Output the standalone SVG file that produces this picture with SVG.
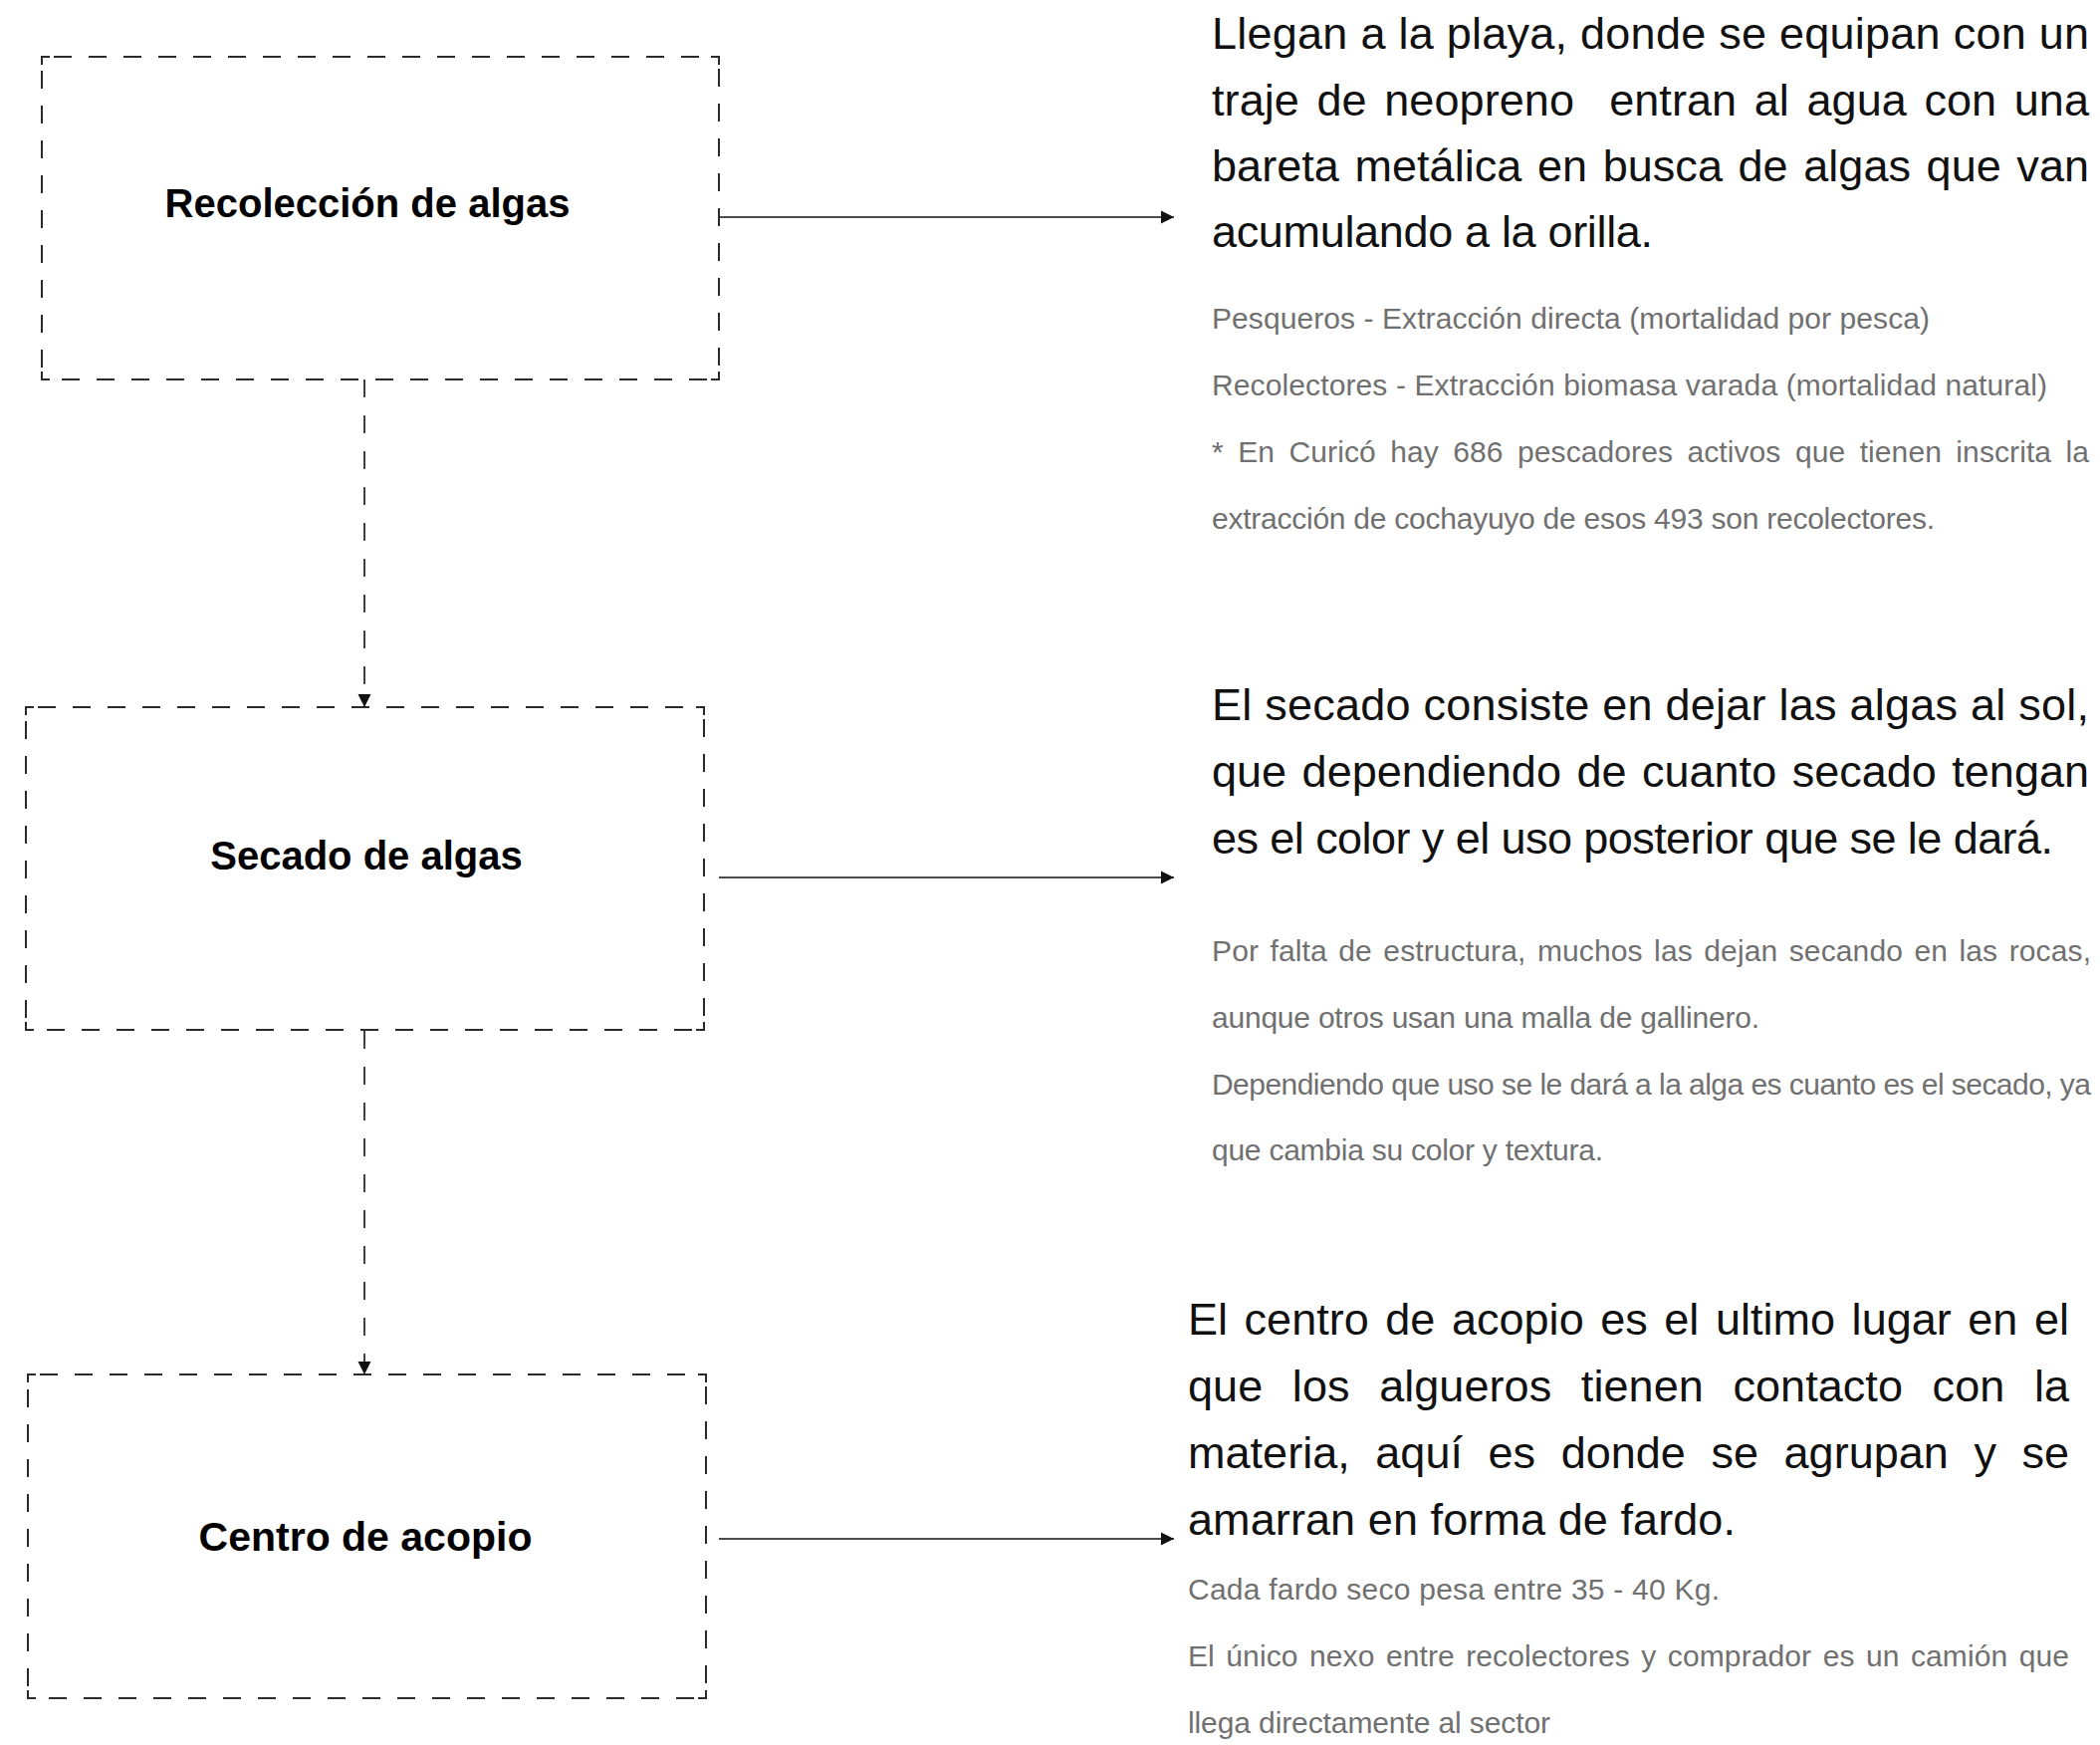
<svg xmlns="http://www.w3.org/2000/svg" width="2109" height="1752" viewBox="0 0 2109 1752">
<style>
.edge{fill:none;stroke:#2a2a2a;stroke-width:2;stroke-dasharray:18 17;stroke-dashoffset:23}
.corner{fill:none;stroke:#2a2a2a;stroke-width:2}
.h{font-family:"Liberation Sans",Arial,sans-serif;font-weight:bold;font-size:40px;fill:#000;text-anchor:middle}
.b{font-family:"Liberation Sans",Arial,sans-serif;font-size:45px;fill:#111}
.s{font-family:"Liberation Sans",Arial,sans-serif;font-size:30px;fill:#707070}
.con{fill:none;stroke:#111;stroke-width:1.6}
.dash{stroke-dasharray:18 18}
</style>
<defs>
<marker id="ah" markerUnits="userSpaceOnUse" markerWidth="14" markerHeight="14" refX="13" refY="7" orient="auto">
<path d="M0,0.5 L13,7 L0,13.5 z" fill="#111"/>
</marker>
</defs>
<rect width="2109" height="1752" fill="#fff"/>

<g id="connectors">
<line class="con dash" x1="366" y1="381" x2="366" y2="710" marker-end="url(#ah)"/>
<line class="con dash" x1="366" y1="1035" x2="366" y2="1380" marker-end="url(#ah)"/>
<line class="con" x1="722" y1="218" x2="1179" y2="218" marker-end="url(#ah)"/>
<line class="con" x1="722" y1="881" x2="1179" y2="881" marker-end="url(#ah)"/>
<line class="con" x1="722" y1="1545" x2="1179" y2="1545" marker-end="url(#ah)"/>
</g>

<g id="node-recoleccion">
<line class="edge" x1="42" y1="57" x2="722" y2="57"/>
<line class="edge" x1="722" y1="57" x2="722" y2="381"/>
<line class="edge" x1="722" y1="381" x2="42" y2="381"/>
<line class="edge" x1="42" y1="381" x2="42" y2="57"/>
<path class="corner" d="M42,65 V57 H50 M714,57 H722 V65 M722,373 V381 H714 M50,381 H42 V373"/>
<text class="h" x="369" y="218">Recolección de algas</text>
</g>

<g id="node-secado">
<line class="edge" x1="26" y1="710" x2="707" y2="710"/>
<line class="edge" x1="707" y1="710" x2="707" y2="1034"/>
<line class="edge" x1="707" y1="1034" x2="26" y2="1034"/>
<line class="edge" x1="26" y1="1034" x2="26" y2="710"/>
<path class="corner" d="M26,718 V710 H34 M699,710 H707 V718 M707,1026 V1034 H699 M34,1034 H26 V1026"/>
<text class="h" x="368" y="873">Secado de algas</text>
</g>

<g id="node-acopio">
<line class="edge" x1="28" y1="1380" x2="709" y2="1380"/>
<line class="edge" x1="709" y1="1380" x2="709" y2="1705"/>
<line class="edge" x1="709" y1="1705" x2="28" y2="1705"/>
<line class="edge" x1="28" y1="1705" x2="28" y2="1380"/>
<path class="corner" d="M28,1388 V1380 H36 M701,1380 H709 V1388 M709,1697 V1705 H701 M36,1705 H28 V1697"/>
<text class="h" x="367" y="1557" style="font-size:41px">Centro de acopio</text>
</g>

<g id="text-recoleccion">
<text class="b" x="1217" y="49" textLength="881" lengthAdjust="spacing">Llegan a la playa, donde se equipan con un</text>
<text class="b" x="1217" y="116" textLength="881" lengthAdjust="spacing" xml:space="preserve" style="word-spacing:5px">traje de neopreno  entran al agua con una</text>
<text class="b" x="1217" y="182" textLength="881" lengthAdjust="spacing" style="word-spacing:3px">bareta metálica en busca de algas que van</text>
<text class="b" x="1217" y="248" textLength="443" lengthAdjust="spacing">acumulando a la orilla.</text>
<text class="s" x="1217" y="330" textLength="721" lengthAdjust="spacing">Pesqueros - Extracción directa (mortalidad por pesca)</text>
<text class="s" x="1217" y="397" textLength="839" lengthAdjust="spacing">Recolectores - Extracción biomasa varada (mortalidad natural)</text>
<text class="s" x="1217" y="464" textLength="881" lengthAdjust="spacing" style="word-spacing:6px">* En Curicó hay 686 pescadores activos que tienen inscrita la</text>
<text class="s" x="1217" y="531" textLength="726" lengthAdjust="spacing">extracción de cochayuyo de esos 493 son recolectores.</text>
</g>

<g id="text-secado">
<text class="b" x="1217" y="723" textLength="881" lengthAdjust="spacing">El secado consiste en dejar las algas al sol,</text>
<text class="b" x="1217" y="790" textLength="881" lengthAdjust="spacing" style="word-spacing:3px">que dependiendo de cuanto secado tengan</text>
<text class="b" x="1217" y="857" textLength="845" lengthAdjust="spacing">es el color y el uso posterior que se le dará.</text>
<text class="s" x="1217" y="965" textLength="883" lengthAdjust="spacing" style="word-spacing:3px">Por falta de estructura, muchos las dejan secando en las rocas,</text>
<text class="s" x="1217" y="1032" textLength="550" lengthAdjust="spacing">aunque otros usan una malla de gallinero.</text>
<text class="s" x="1217" y="1099" textLength="883" lengthAdjust="spacing">Dependiendo que uso se le dará a la alga es cuanto es el secado, ya</text>
<text class="s" x="1217" y="1165" textLength="393" lengthAdjust="spacing">que cambia su color y textura.</text>
</g>

<g id="text-acopio">
<text class="b" x="1193" y="1340" textLength="885" lengthAdjust="spacing" style="word-spacing:4px">El centro de acopio es el ultimo lugar en el</text>
<text class="b" x="1193" y="1407" textLength="885" lengthAdjust="spacing" style="word-spacing:17px">que los algueros tienen contacto con la</text>
<text class="b" x="1193" y="1474" textLength="885" lengthAdjust="spacing" style="word-spacing:13px">materia, aquí es donde se agrupan y se</text>
<text class="b" x="1193" y="1541" textLength="550" lengthAdjust="spacing">amarran en forma de fardo.</text>
<text class="s" x="1193" y="1606" textLength="534" lengthAdjust="spacing">Cada fardo seco pesa entre 35 - 40 Kg.</text>
<text class="s" x="1193" y="1673" textLength="885" lengthAdjust="spacing" style="word-spacing:3px">El único nexo entre recolectores y comprador es un camión que</text>
<text class="s" x="1193" y="1740" textLength="364" lengthAdjust="spacing">llega directamente al sector</text>
</g>
</svg>
